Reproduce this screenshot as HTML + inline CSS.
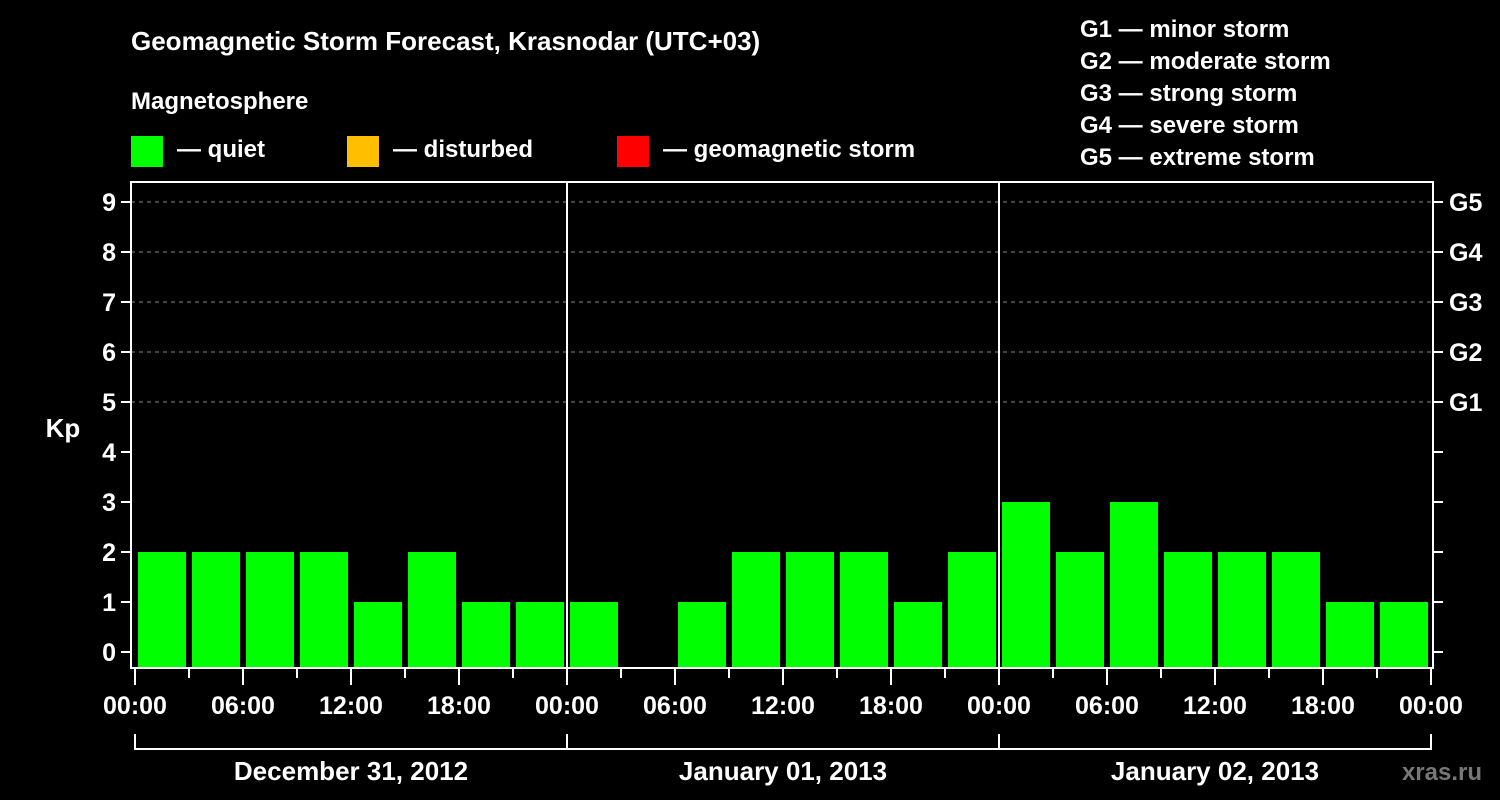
<!DOCTYPE html>
<html><head><meta charset="utf-8"><style>
html,body{margin:0;padding:0;background:#000;}
svg{display:block;font-family:"Liberation Sans",Arial,sans-serif;font-weight:bold;}
</style></head><body>
<svg id="chart" width="1500" height="800" viewBox="0 0 1500 800" xmlns="http://www.w3.org/2000/svg">
<rect width="1500" height="800" fill="#000"/>
<text x="131" y="50" fill="#fff" font-size="26">Geomagnetic Storm Forecast, Krasnodar (UTC+03)</text>
<text x="131" y="109" fill="#fff" font-size="24">Magnetosphere</text>
<g><rect x="131" y="136" width="32" height="31" fill="#00ff00"/><text x="177" y="157" fill="#fff" font-size="24">— quiet</text></g>
<g><rect x="347" y="136" width="32" height="31" fill="#ffbf00"/><text x="393" y="157" fill="#fff" font-size="24">— disturbed</text></g>
<g><rect x="617" y="136" width="32" height="31" fill="#ff0000"/><text x="663" y="157" fill="#fff" font-size="24">— geomagnetic storm</text></g>
<g fill="#fff" font-size="24">
<text x="1080" y="37">G1 — minor storm</text>
<text x="1080" y="69">G2 — moderate storm</text>
<text x="1080" y="101">G3 — strong storm</text>
<text x="1080" y="133">G4 — severe storm</text>
<text x="1080" y="165">G5 — extreme storm</text>
</g>
<text x="63" y="437" fill="#fff" font-size="26" text-anchor="middle">Kp</text>
<text x="1482" y="780" fill="#777" font-size="24" text-anchor="end">xras.ru</text>
<g id="grid"></g><g id="bars"></g><g id="axes"></g>
</svg>
<script>
const kpValues=[2,2,2,2,1,2,1,1, 1,0,1,2,2,2,1,2, 3,2,3,2,2,2,1,1];
const yTicks=[0,1,2,3,4,5,6,7,8,9];
const gLabels=["G1","G2","G3","G4","G5"];
const gLevels=[5,6,7,8,9];
const xTickLabels=["00:00","06:00","12:00","18:00","00:00","06:00","12:00","18:00","00:00","06:00","12:00","18:00","00:00"];
const dayLabels=["December 31, 2012","January 01, 2013","January 02, 2013"];
const NS="http://www.w3.org/2000/svg";
const X0=135,SLOT=54;
function xs(i){return X0+i*SLOT;}
function ys(v){return 652-v*50;}
function mk(tag,attrs,parent,text){const e=document.createElementNS(NS,tag);for(const k in attrs)e.setAttribute(k,attrs[k]);if(text!==undefined)e.textContent=text;parent.appendChild(e);return e;}
const grid=document.getElementById('grid'),bars=document.getElementById('bars'),axes=document.getElementById('axes');
gLevels.forEach(v=>{const l=mk('line',{x1:131,x2:1433,y1:ys(v),y2:ys(v),stroke:'#888','stroke-dasharray':'4,4','stroke-width':1},grid);

});
kpValues.forEach((v,i)=>{const c=v>=5?'#ff0000':(v>=4?'#ffbf00':'#00ff00');
const top=v===0?668:ys(v);
const r=mk('rect',{x:xs(i)+3,y:top,width:48,height:668-top,fill:c},bars);

});
const frame=mk('rect',{x:131,y:182,width:1302,height:486,fill:'none',stroke:'#fff','stroke-width':2},axes);


[1,2].forEach(d=>{const l=mk('line',{x1:xs(d*8),x2:xs(d*8),y1:182,y2:668,stroke:'#fff','stroke-width':2},axes);

});
yTicks.forEach(v=>{mk('line',{x1:121,x2:131,y1:ys(v),y2:ys(v),stroke:'#fff','stroke-width':2},axes);
mk('line',{x1:1433,x2:1443,y1:ys(v),y2:ys(v),stroke:'#fff','stroke-width':2},axes);
const t=mk('text',{x:116,y:ys(v)+9,fill:'#fff','font-size':25,'text-anchor':'end'},axes,String(v));

});
gLevels.forEach((v,i)=>{const t=mk('text',{x:1449,y:ys(v)+9,fill:'#fff','font-size':25},axes,gLabels[i]);

});
for(let i=0;i<=24;i++){const major=i%2===0;mk('line',{x1:xs(i),x2:xs(i),y1:668,y2:major?685:678,stroke:'#fff','stroke-width':2},axes);}
xTickLabels.forEach((s,i)=>{const t=mk('text',{x:xs(i*2),y:714,fill:'#fff','font-size':25,'text-anchor':'middle'},axes,s);

});
mk('line',{x1:xs(0),x2:xs(24),y1:749,y2:749,stroke:'#fff','stroke-width':2},axes);
for(let d=0;d<=3;d++)mk('line',{x1:xs(d*8),x2:xs(d*8),y1:734,y2:750,stroke:'#fff','stroke-width':2},axes);
dayLabels.forEach((s,d)=>{const t=mk('text',{x:xs(d*8+4),y:780,fill:'#fff','font-size':26,'text-anchor':'middle'},axes,s);

});
</script>
</body></html>
